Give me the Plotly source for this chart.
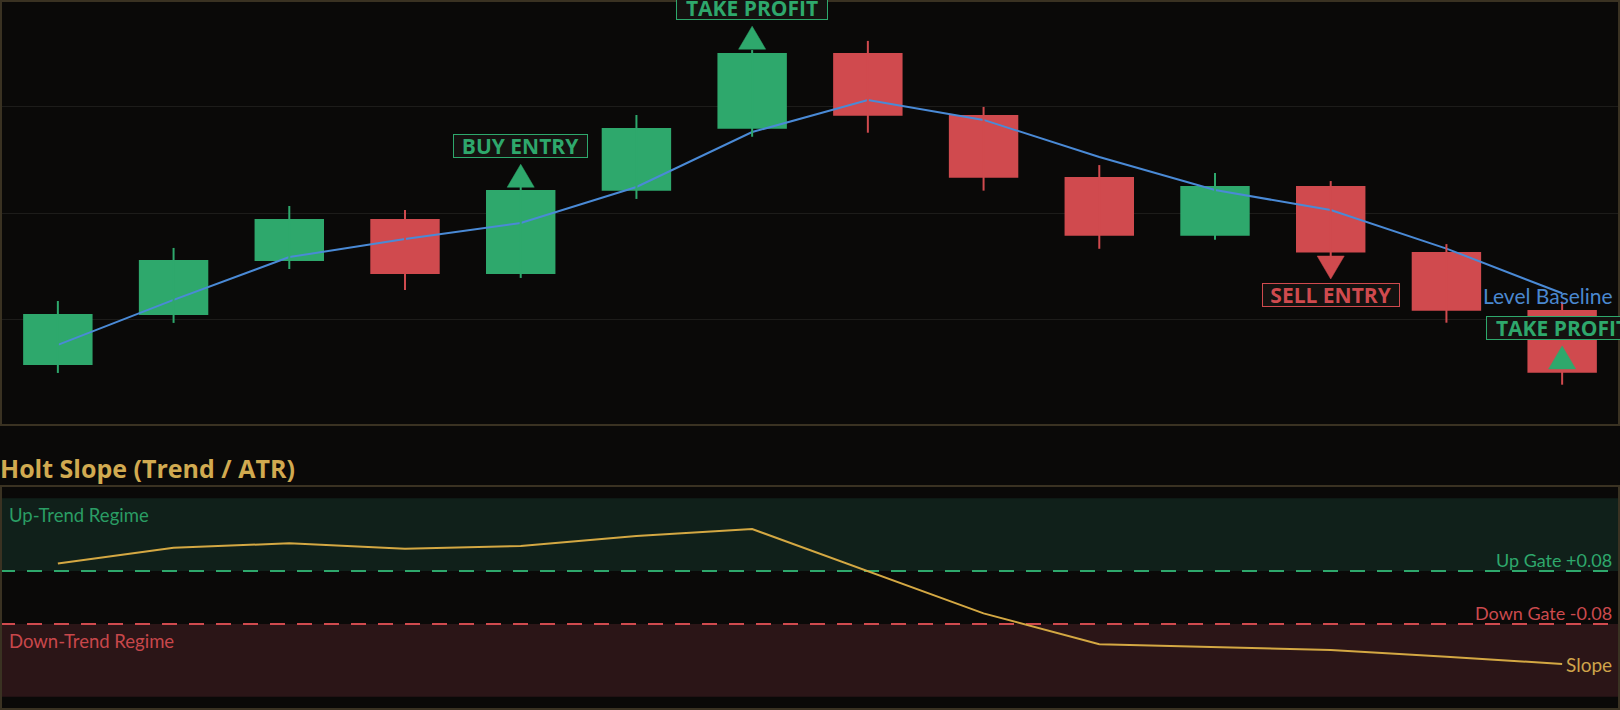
import plotly.graph_objects as go

# ---------------- data ----------------
candle_idx = list(range(14))
opens  = [92.86, 95.21, 97.75, 99.72, 97.14, 101.05, 103.96, 107.51, 104.60, 101.69, 98.93, 101.27, 98.17, 95.45]
highs  = [95.87, 98.36, 100.33, 100.14, 101.27, 104.60, 107.65, 108.08, 104.98, 102.25, 101.88, 101.50, 98.54, 95.84]
lows   = [92.49, 94.84, 97.37, 96.39, 96.95, 100.66, 103.58, 103.77, 101.05, 98.32, 98.75, 97.98, 94.85, 91.94]
closes = [95.26, 97.79, 99.72, 97.14, 101.08, 103.99, 107.51, 104.57, 101.66, 98.93, 101.27, 98.14, 95.41, 92.50]
level_baseline = [93.81, 95.92, 97.93, 98.78, 99.53, 101.22, 103.80, 105.30, 104.37, 102.63, 101.08, 100.14, 98.33, 96.23]
holt_slope = [0.103, 0.150, 0.164, 0.147, 0.156, 0.186, 0.207, 0.079, -0.048, -0.141, -0.150, -0.159, -0.179, -0.201]

signal_idx = [4, 6, 11, 13]
signal_kind = ["up", "up", "down", "up"]
signal_text = ["BUY ENTRY", "TAKE PROFIT", "SELL ENTRY", "TAKE PROFIT"]
signal_color_key = ["green", "green", "red", "green"]
signal_price = [101.21, 107.69, 97.98, 92.68]   # triangle base level

up_gate = 0.08
down_gate = -0.08
regime_edge = 0.30

price_range = [90, 110]
price_dtick = 5
slope_range = [-0.34, 0.34]

# ---------------- style ----------------
W, H = 1620, 710
BG = "#0a0908"
BORDER = "#3a3222"
GRID = "#1d1c1a"
GREEN = "#2ea86c"
RED = "#d04a4e"
BLUE = "#4a8ad6"
GOLD = "#d4a843"
FONT = "Lato, 'Open Sans', sans-serif"
BOLD_FONT = "'Open Sans', Lato, sans-serif"

TOP_DOMAIN = [0.4, 1.0]
BOT_DOMAIN = [0.0, 0.3169]

TRI_HALF_W = 0.117          # x units
TRI_H = 1.08                # price units
label_width = {"BUY ENTRY": 133, "TAKE PROFIT": 150, "SELL ENTRY": 136}
colors = {"green": GREEN, "red": RED}

fig = go.Figure()

# level baseline (behind candles)
fig.add_trace(go.Scatter(x=candle_idx, y=level_baseline, mode="lines",
                         line=dict(color=BLUE, width=2), hoverinfo="skip",
                         xaxis="x", yaxis="y", showlegend=False))

# wicks
for up in (True, False):
    wx, wy = [], []
    for i, o, h, l, c in zip(candle_idx, opens, highs, lows, closes):
        if (c >= o) == up:
            wx += [i, i, None]
            wy += [l, h, None]
    fig.add_trace(go.Scatter(x=wx, y=wy, mode="lines",
                             line=dict(color=GREEN if up else RED, width=2),
                             hoverinfo="skip", xaxis="x", yaxis="y", showlegend=False))

# bodies
fig.add_trace(go.Bar(x=candle_idx,
                     y=[abs(c - o) for o, c in zip(opens, closes)],
                     base=[min(o, c) for o, c in zip(opens, closes)],
                     width=0.6,
                     marker=dict(color=[GREEN if c >= o else RED for o, c in zip(opens, closes)],
                                 line=dict(width=0)),
                     hoverinfo="skip", xaxis="x", yaxis="y", showlegend=False))

# signal triangles + labels
annotations = []
for i, kind, txt, ck, p in zip(signal_idx, signal_kind, signal_text, signal_color_key, signal_price):
    col = colors[ck]
    tip = p + TRI_H if kind == "up" else p - TRI_H
    fig.add_trace(go.Scatter(x=[i - TRI_HALF_W, i + TRI_HALF_W, i, i - TRI_HALF_W],
                             y=[p, p, tip, p], mode="lines", fill="toself",
                             fillcolor=col, line=dict(color=col, width=0.5),
                             hoverinfo="skip", xaxis="x", yaxis="y", showlegend=False))
    annotations.append(dict(
        x=i, y=tip, xref="x", yref="y", text=txt, showarrow=False,
        xanchor="center", yanchor="bottom" if kind == "up" else "top",
        yshift=6 if kind == "up" else -4,
        font=dict(family=BOLD_FONT, size=21, color=col, weight="bold"),
        bgcolor="#141210", bordercolor=col, borderwidth=1, borderpad=0,
        width=label_width[txt], height=22, align="center", valign="middle"))

# slope line
fig.add_trace(go.Scatter(x=candle_idx, y=holt_slope, mode="lines",
                         line=dict(color=GOLD, width=2), hoverinfo="skip",
                         xaxis="x2", yaxis="y2", showlegend=False))

# ---------------- shapes ----------------
shapes = [
    dict(type="rect", xref="x2 domain", yref="y2", x0=0, x1=1, y0=up_gate, y1=regime_edge,
         fillcolor="#10201a", line=dict(width=0), layer="below"),
    dict(type="rect", xref="x2 domain", yref="y2", x0=0, x1=1, y0=-regime_edge, y1=down_gate,
         fillcolor="#2b1517", line=dict(width=0), layer="below"),
    dict(type="line", xref="x2 domain", yref="y2", x0=0, x1=1, y0=up_gate, y1=up_gate,
         line=dict(color=GREEN, width=2, dash="15px,12px"), layer="below"),
    dict(type="line", xref="x2 domain", yref="y2", x0=0, x1=1, y0=down_gate, y1=down_gate,
         line=dict(color=RED, width=2, dash="15px,12px"), layer="below"),
]
top_h = (TOP_DOMAIN[1] - TOP_DOMAIN[0]) * H
bot_h = (BOT_DOMAIN[1] - BOT_DOMAIN[0]) * H
shapes.append(dict(type="rect", xref="x domain", yref="y domain",
                   x0=1 / W, x1=1 - 1 / W, y0=1 / top_h, y1=1 - 1 / top_h,
                   line=dict(color=BORDER, width=2), layer="above"))
shapes.append(dict(type="rect", xref="x2 domain", yref="y2 domain",
                   x0=1 / W, x1=1 - 1 / W, y0=1 / bot_h, y1=1 - 1 / bot_h,
                   line=dict(color=BORDER, width=2), layer="above"))

# ---------------- text annotations ----------------
annotations += [
    dict(x=1, xref="paper", xanchor="right", xshift=-5,
         y=level_baseline[-1], yref="y", yanchor="middle", yshift=-2,
         text="Level Baseline", showarrow=False,
         font=dict(family=FONT, size=21, color="#4a88d0")),
    dict(x=0, xref="paper", xanchor="left", xshift=-2,
         y=BOT_DOMAIN[1], yref="paper", yanchor="bottom", yshift=-2,
         text="Holt Slope (Trend / ATR)", showarrow=False,
         font=dict(family=BOLD_FONT, size=25, color="#d1aa50", weight="bold")),
    dict(x=0, xref="paper", xanchor="left", xshift=7,
         y=regime_edge, yref="y2", yanchor="top", yshift=-4,
         text="Up-Trend Regime", showarrow=False,
         font=dict(family=FONT, size=18.5, color="#2a9d64")),
    dict(x=0, xref="paper", xanchor="left", xshift=7,
         y=down_gate, yref="y2", yanchor="top", yshift=-4,
         text="Down-Trend Regime", showarrow=False,
         font=dict(family=FONT, size=18.5, color="#c8474b")),
    dict(x=1, xref="paper", xanchor="right", xshift=-6,
         y=up_gate, yref="y2", yanchor="bottom", yshift=-2,
         text="Up Gate +0.08", showarrow=False,
         font=dict(family=FONT, size=18, color="#2ea86c")),
    dict(x=1, xref="paper", xanchor="right", xshift=-6,
         y=down_gate, yref="y2", yanchor="bottom", yshift=-2,
         text="Down Gate -0.08", showarrow=False,
         font=dict(family=FONT, size=18, color="#cc4a4e")),
    dict(x=1, xref="paper", xanchor="right", xshift=-6,
         y=holt_slope[-1], yref="y2", yanchor="middle", yshift=0,
         text="Slope", showarrow=False,
         font=dict(family=FONT, size=19, color="#cfa44a")),
]

xrange = [-0.5, len(candle_idx) - 0.5]
fig.update_layout(
    width=W, height=H,
    margin=dict(l=0, r=0, t=0, b=0, pad=0),
    paper_bgcolor=BG, plot_bgcolor=BG,
    showlegend=False, hovermode=False,
    xaxis=dict(domain=[0, 1], range=xrange, anchor="y", showgrid=False, zeroline=False,
               showticklabels=False, ticks="", showline=False, fixedrange=True),
    yaxis=dict(domain=TOP_DOMAIN, range=price_range, anchor="x", dtick=price_dtick, tick0=0,
               showgrid=True, gridcolor=GRID, gridwidth=1, zeroline=False,
               showticklabels=False, ticks="", showline=False, fixedrange=True),
    xaxis2=dict(domain=[0, 1], range=xrange, anchor="y2", showgrid=False, zeroline=False,
                showticklabels=False, ticks="", showline=False, fixedrange=True),
    yaxis2=dict(domain=BOT_DOMAIN, range=slope_range, anchor="x2", showgrid=False, zeroline=False,
                showticklabels=False, ticks="", showline=False, fixedrange=True),
    shapes=shapes,
    annotations=annotations,
    font=dict(family=FONT),
)

fig.write_html(
    "out.html",
    config={"displayModeBar": False},
    post_script="document.body.style.margin='0';document.body.style.padding='0';"
                "document.body.style.overflow='hidden';"
                "document.body.style.background='" + BG + "';",
)
